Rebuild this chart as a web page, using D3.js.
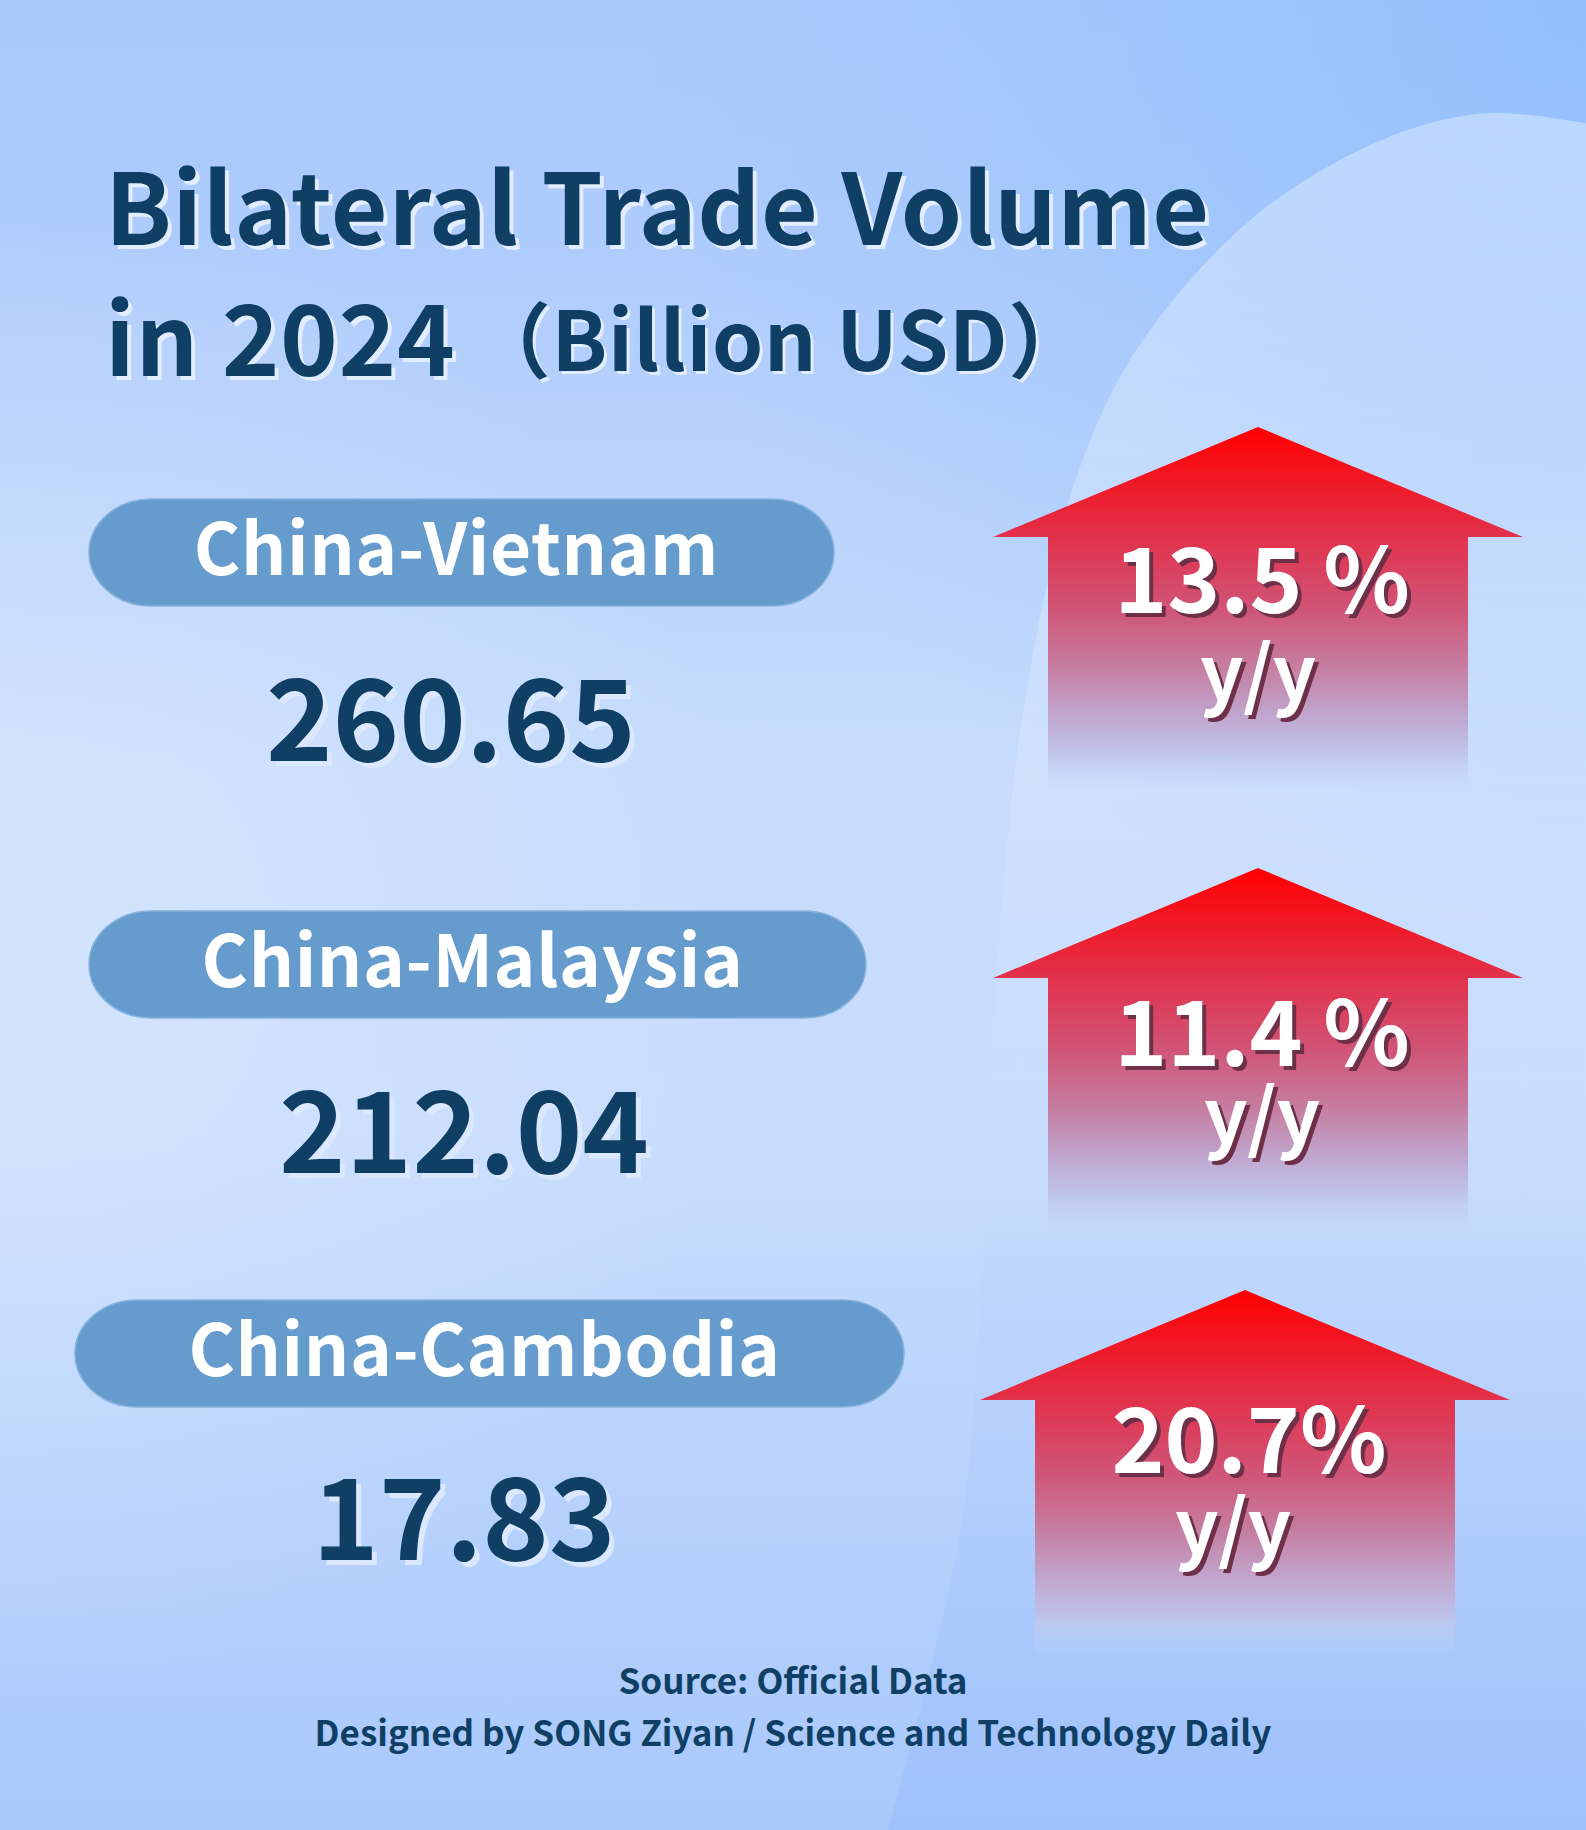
<!DOCTYPE html>
<html>
<head>
<meta charset="utf-8">
<script src="https://cdn.jsdelivr.net/npm/d3@7/dist/d3.min.js"></script>
<style>
  body { margin: 0; background: #c5dbfc; }
  svg { display: block; }
  text { font-family: "Noto Sans CJK SC", "Noto Sans", sans-serif; font-weight: 700; }
</style>
</head>
<body>
<div id="chart"></div>
<script>
// data
const pairs = ["China-Vietnam", "China-Malaysia", "China-Cambodia"];
const tradeVolume = [260.65, 212.04, 17.83];
const growthPct = [13.5, 11.4, 20.7];
const growthLabels = ["13.5 %", "11.4 %", "20.7%"];
const titleLines = ["Bilateral Trade Volume", "in 2024"];
const unitLabel = "（Billion USD）";
const footerLines = ["Source: Official Data", "Designed by SONG Ziyan / Science and Technology Daily"];

const width = 1586, height = 1830;
const navy = "#0f3f64";

// row layout - rows are not evenly spaced in the original
const pillTop = d3.scaleOrdinal(pairs, [499, 911, 1300]);
const pillX = d3.scaleOrdinal(pairs, [[89, 834], [89, 866], [75, 904]]);
const valueY = d3.scaleOrdinal(pairs, [761, 1173, 1560]);
const valueX = d3.scaleOrdinal(pairs, [451, 464, 464]);
const arrowTip = d3.scaleOrdinal(pairs, [[1258, 427], [1258, 868], [1245, 1290]]);
const pctDy = d3.scaleOrdinal(pairs, [186, 198, 183]);
const yyDy = d3.scaleOrdinal(pairs, [274, 276, 265]);
const yyDx = d3.scaleOrdinal(pairs, [0, 4, -12]);
const pillH = 107;

const rows = pairs.map((p, i) => ({ pair: p, value: tradeVolume[i], growth: growthPct[i], label: growthLabels[i] }));

const svg = d3.select("#chart").append("svg")
  .attr("width", width).attr("height", height)
  .attr("viewBox", [0, 0, width, height]);

const defs = svg.append("defs");

function addStops(grad, stops) {
  stops.forEach(s => grad.append("stop").attr("offset", s[0]).attr("stop-color", s[1])
    .attr("stop-opacity", s[2] == null ? 1 : s[2]));
}

addStops(defs.append("linearGradient").attr("id", "bgV")
  .attr("x1", 0).attr("y1", 0).attr("x2", 0).attr("y2", 1),
  [[0, "#a9c9fc"], [0.12, "#adcbfc"], [0.42, "#c7dcfd"], [0.62, "#c8dcfd"], [0.85, "#b4d0fc"], [1, "#a9c8fc"]]);

addStops(defs.append("radialGradient").attr("id", "bgTR")
  .attr("gradientUnits", "userSpaceOnUse").attr("cx", 1586).attr("cy", 0).attr("r", 950),
  [[0, "#8ebefd", 0.85], [0.6, "#96c3fd", 0.35], [1, "#9cc5fd", 0]]);

addStops(defs.append("radialGradient").attr("id", "bgL")
  .attr("gradientUnits", "userSpaceOnUse").attr("cx", 0).attr("cy", 950).attr("r", 750),
  [[0, "#d8e8fe", 0.7], [1, "#d8e8fe", 0]]);

addStops(defs.append("linearGradient").attr("id", "swoosh")
  .attr("gradientUnits", "userSpaceOnUse")
  .attr("x1", 0).attr("y1", 114).attr("x2", 0).attr("y2", 1830),
  [[0, "#ffffff", 0.34], [0.3, "#ffffff", 0.22], [0.5, "#ffffff", 0.04], [0.7, "#9fc1fb", 0.08], [1, "#8fb8fa", 0.4]]);

addStops(defs.append("linearGradient").attr("id", "arrowFill")
  .attr("x1", 0).attr("y1", 0).attr("x2", 0).attr("y2", 1),
  [[0, "#ff0000"], [0.3, "#e2314b"], [0.5, "#d05577"], [0.65, "#c67c9f"],
   [0.78, "#c0a3cb"], [0.9, "#c0c4ea", 0.9], [1, "#c4d8fb", 0]]);

svg.append("rect").attr("width", width).attr("height", height).attr("fill", "url(#bgV)");
svg.append("rect").attr("width", width).attr("height", height).attr("fill", "url(#bgTR)");
svg.append("rect").attr("width", width).attr("height", height).attr("fill", "url(#bgL)");

// big soft shape on the right
const swoosh = [[1700, 150], [1476, 114], [1290, 190], [1150, 330], [1080, 467], [1025, 700],
  [995, 1000], [980, 1300], [965, 1500], [935, 1650], [885, 1840]];
svg.append("path")
  .attr("d", d3.line().curve(d3.curveCatmullRom)(swoosh) + "L1700,1840Z")
  .attr("fill", "url(#swoosh)");

function shadowText(g, x, y, txt, size, fill, shadow, off) {
  g.append("text").attr("x", x + off).attr("y", y + off).attr("font-size", size)
    .attr("fill", shadow).text(txt);
  return g.append("text").attr("x", x).attr("y", y).attr("font-size", size)
    .attr("fill", fill).text(txt);
}

// title
const title = svg.append("g").attr("letter-spacing", 0.6);
shadowText(title, 105, 245, titleLines[0], 98, navy, "#e2edff", 4);
shadowText(title, 105, 376, titleLines[1], 98, navy, "#e2edff", 4);
shadowText(title, 469, 371, unitLabel, 82, navy, "#e2edff", 3);

// rows
const row = svg.selectAll("g.row").data(rows).join("g").attr("class", "row");

row.append("rect")
  .attr("x", d => pillX(d.pair)[0])
  .attr("y", d => pillTop(d.pair))
  .attr("width", d => pillX(d.pair)[1] - pillX(d.pair)[0])
  .attr("height", pillH)
  .attr("rx", 62).attr("ry", pillH / 2)
  .attr("fill", "#669bcd")
  .attr("stroke", "#86b2de").attr("stroke-width", 1.5);

row.append("text")
  .attr("x", d => (pillX(d.pair)[0] + pillX(d.pair)[1]) / 2 - 5)
  .attr("y", d => pillTop(d.pair) + 76)
  .attr("text-anchor", "middle")
  .attr("letter-spacing", 0.6)
  .attr("font-size", 71)
  .attr("fill", "#ffffff")
  .text(d => d.pair);

const fmt = d3.format(".2f");
row.each(function(d) {
  const g = d3.select(this).append("g").attr("text-anchor", "middle");
  shadowText(g, valueX(d.pair), valueY(d.pair), fmt(d.value), 113, navy, "#dbe8fe", 5);
});

// arrows
const arrowShape = [[0, 0], [265, 110], [210, 110], [210, 366], [-210, 366], [-210, 110], [-265, 110]];
const line = d3.line().curve(d3.curveLinearClosed);
row.append("path")
  .attr("d", d => {
    const [tx, ty] = arrowTip(d.pair);
    return line(arrowShape.map(p => [tx + p[0], ty + p[1]]));
  })
  .attr("fill", "url(#arrowFill)");

row.each(function(d) {
  const g = d3.select(this);
  const [tx, ty] = arrowTip(d.pair);
  const a = g.append("g").attr("text-anchor", "middle");
  shadowText(a, tx + 4, ty + pctDy(d.pair), d.label, 90, "#ffffff", "#6e2f48", 4);
  shadowText(a, tx + yyDx(d.pair), ty + yyDy(d.pair), "y/y", 76, "#ffffff", "#6e2f48", 4);
});

// footer
footerLines.forEach((t, i) => {
  svg.append("text")
    .attr("x", 793).attr("y", [1694, 1746][i])
    .attr("text-anchor", "middle")
    .attr("font-size", 35)
    .attr("fill", navy)
    .text(t);
});
</script>
</body>
</html>
